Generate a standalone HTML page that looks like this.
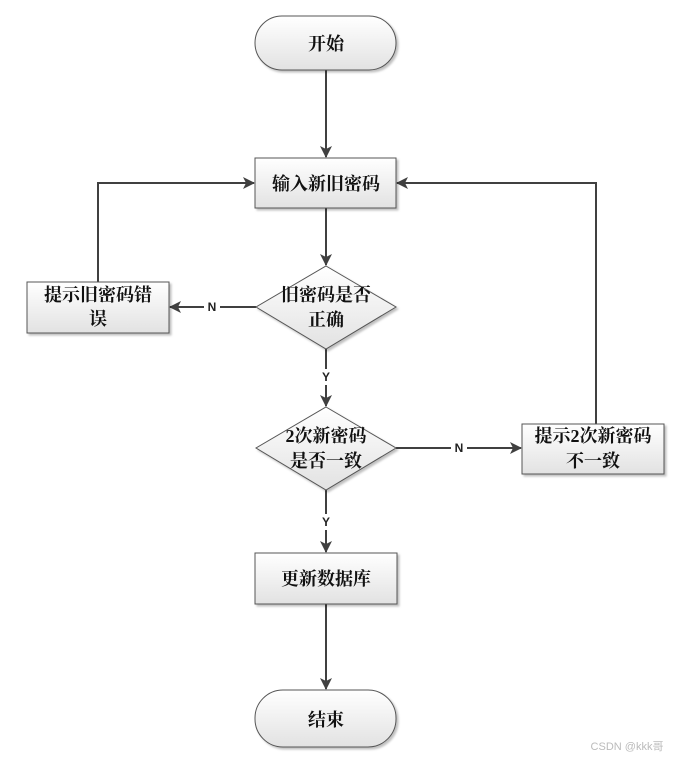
<!DOCTYPE html>
<html><head><meta charset="utf-8"><style>
html,body{margin:0;padding:0;background:#fff;width:674px;height:759px;overflow:hidden}
svg{display:block}
.t{font-family:"Liberation Serif","Noto Serif CJK SC","Noto Sans CJK SC",serif;font-weight:bold;font-size:18px;fill:#111;text-anchor:middle}
.l{font-family:"Liberation Sans",sans-serif;font-weight:bold;font-size:12px;fill:#222;text-anchor:middle}
</style></head><body>
<svg width="674" height="759" viewBox="0 0 674 759" xmlns="http://www.w3.org/2000/svg">
<defs>
<linearGradient id="g" x1="0" y1="0" x2="0" y2="1"><stop offset="0" stop-color="#ffffff"/><stop offset="1" stop-color="#e2e2e2"/></linearGradient>
<marker id="a" markerWidth="12" markerHeight="12" refX="11" refY="6" orient="auto" markerUnits="userSpaceOnUse"><path d="M0,0 L12,6 L0,12 L3,6 z" fill="#404040"/></marker>
<filter id="s" x="-10%" y="-10%" width="130%" height="130%"><feDropShadow dx="2" dy="2" stdDeviation="1" flood-color="#000" flood-opacity="0.25"/></filter>
</defs>
<g stroke="#404040" stroke-width="2" fill="none">
<line x1="326" y1="70" x2="326" y2="157" marker-end="url(#a)"/>
<line x1="326" y1="208" x2="326" y2="265" marker-end="url(#a)"/>
<line x1="256" y1="307" x2="170" y2="307" marker-end="url(#a)"/>
<polyline points="98,282 98,183 254,183" marker-end="url(#a)"/>
<line x1="326" y1="349" x2="326" y2="406" marker-end="url(#a)"/>
<line x1="396" y1="448" x2="521" y2="448" marker-end="url(#a)"/>
<polyline points="596,424 596,183 397,183" marker-end="url(#a)"/>
<line x1="326" y1="490" x2="326" y2="552" marker-end="url(#a)"/>
<line x1="326" y1="604" x2="326" y2="689" marker-end="url(#a)"/>
</g>
<rect x="204" y="299" width="16" height="16" fill="#fff"/>
<text class="l" x="212" y="311">N</text>
<rect x="318" y="369" width="16" height="16" fill="#fff"/>
<text class="l" x="326" y="381">Y</text>
<rect x="451" y="440" width="16" height="16" fill="#fff"/>
<text class="l" x="459" y="452">N</text>
<rect x="318" y="514" width="16" height="16" fill="#fff"/>
<text class="l" x="326" y="526">Y</text>
<g fill="url(#g)" stroke="#555" stroke-width="1" filter="url(#s)">
<rect x="255" y="16" width="141" height="54" rx="27"/>
<rect x="255" y="158" width="141" height="50"/>
<polygon points="326,266 396,307 326,349 256,307"/>
<rect x="27" y="282" width="142" height="51"/>
<polygon points="326,407 396,448 326,490 256,448"/>
<rect x="522" y="424" width="142" height="50"/>
<rect x="255" y="553" width="142" height="51"/>
<rect x="255" y="690" width="141" height="57" rx="28"/>
</g>
<text class="t" x="326" y="50">开始</text>
<text class="t" x="326" y="190">输入新旧密码</text>
<text class="t" x="326" y="301">旧密码是否</text>
<text class="t" x="326" y="326">正确</text>
<text class="t" x="98" y="301">提示旧密码错</text>
<text class="t" x="98" y="325">误</text>
<text class="t" x="326" y="442">2次新密码</text>
<text class="t" x="326" y="467">是否一致</text>
<text class="t" x="593" y="442">提示2次新密码</text>
<text class="t" x="593" y="467">不一致</text>
<text class="t" x="326" y="585">更新数据库</text>
<text class="t" x="326" y="726">结束</text>
<text x="627" y="750" font-family="Liberation Sans,Noto Sans CJK SC,sans-serif" font-size="11" fill="#bbb" text-anchor="middle">CSDN @kkk哥</text>
</svg>
</body></html>
